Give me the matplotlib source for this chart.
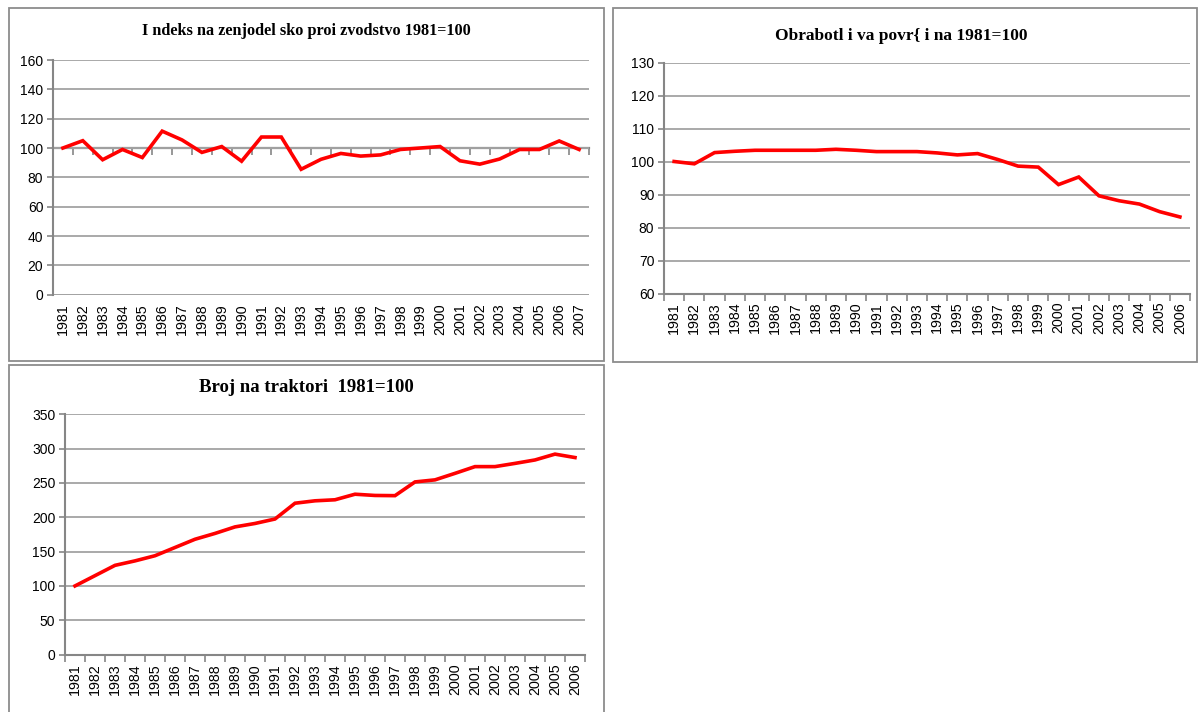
import matplotlib
matplotlib.use("Agg")
import matplotlib.pyplot as plt
from matplotlib.patches import Rectangle
from matplotlib.ticker import FixedLocator, NullFormatter

# ---------------- data ----------------
years_prod = list(range(1981, 2008))
prod_index = [100, 105, 92, 99, 93.5, 111.5, 105.5, 97, 101, 91, 107.5, 107.5, 85.5,
              92.3, 96.3, 94.5, 95.3, 99, 100, 101, 91.3, 89, 92.5, 99, 99, 104.8, 99]

years_land = list(range(1981, 2007))
land_index = [100, 99.3, 102.7, 103.1, 103.4, 103.4, 103.4, 103.4, 103.7, 103.4, 103.0,
              103.0, 103.0, 102.6, 102.0, 102.4, 100.6, 98.6, 98.3, 93.0, 95.3, 89.6,
              88.1, 87.1, 84.8, 83.2]

years_tract = list(range(1981, 2007))
tract_index = [100, 115, 130, 136.5, 144, 156, 168, 176.5, 186, 191, 197.5, 220.5, 224,
               225.5, 233.6, 231.8, 231.5, 251.5, 254.5, 264, 273.8, 273.8, 278.5,
               283.5, 292, 287]

titles = ["I ndeks na zenjodel sko proi zvodstvo 1981=100",
          "Obrabotl i va povr{ i na 1981=100",
          "Broj na traktori  1981=100"]

# ---------------- layout ----------------
W, H = 1200, 712
fig = plt.figure(figsize=(W / 100, H / 100), dpi=100)
fig.patch.set_facecolor("white")

GRID = "#a3a3a3"
AXC = "#868686"
RED = "#ff0000"


def rect(x0, x1, ytop, ybot):
    return [x0 / W, 1 - ybot / H, (x1 - x0) / W, (ybot - ytop) / H]


def panel(x0, x1, ytop, ybot):
    fig.patches.append(Rectangle((x0 / W, 1 - ybot / H), (x1 - x0) / W, (ybot - ytop) / H,
                                 transform=fig.transFigure, fill=False,
                                 edgecolor="#8c8c8c", lw=1.3))


def make_chart(pos, years, values, yticks, title, title_xy, title_size, cross=None):
    ax = fig.add_axes(pos)
    n = len(years)
    x = list(range(n))
    ax.set_xlim(-0.5, n - 0.5)
    ax.set_ylim(yticks[0], yticks[-1])
    ax.set_yticks(yticks)
    ax.set_yticklabels([str(v) for v in yticks], fontsize=10, family="Liberation Sans")
    ax.set_xticks(x)
    ax.set_xticklabels([str(y) for y in years], rotation=90, fontsize=10.3,
                       family="Liberation Sans")
    ax.tick_params(axis="x", which="major", length=0, pad=6)
    ax.tick_params(axis="y", which="major", length=4, color=AXC, width=1.2, pad=3)
    for s in ["top", "right"]:
        ax.spines[s].set_visible(False)
    ax.spines["left"].set_color(AXC)
    ax.spines["left"].set_linewidth(1.5)
    ax.yaxis.grid(True, color=GRID, lw=1.3)
    ax.set_axisbelow(True)
    bounds = [k - 0.5 for k in range(n + 1)]
    if cross is None:
        ax.spines["bottom"].set_color(AXC)
        ax.spines["bottom"].set_linewidth(1.5)
        ax.xaxis.set_minor_locator(FixedLocator(bounds))
        ax.tick_params(axis="x", which="minor", length=5, color=AXC, width=1.2)
    else:
        ax.spines["bottom"].set_visible(False)
        frac = (cross - yticks[0]) / (yticks[-1] - yticks[0])
        sec = ax.secondary_xaxis(frac)
        sec.set_alignment("bottom")
        sec.set_xticks(bounds)
        sec.xaxis.set_major_formatter(NullFormatter())
        sec.tick_params(axis="x", length=5, color=AXC, width=1.2, direction="out")
        for s in sec.spines.values():
            s.set_color(AXC)
            s.set_linewidth(1.6)
        ax.axhline(yticks[0], color=GRID, lw=1.3, zorder=0)
    ax.plot(x, values, color=RED, lw=2.6, solid_joinstyle="miter", zorder=5)
    fig.text(title_xy[0] / W, 1 - title_xy[1] / H, title, ha="center", va="center",
             fontsize=title_size, fontweight="bold", family="Liberation Serif")
    return ax


panel(9, 604, 8, 361)
panel(613, 1197, 8, 362)
panel(9, 604, 365, 716)

make_chart(rect(53, 589, 60, 294.7), years_prod, prod_index,
           [0, 20, 40, 60, 80, 100, 120, 140, 160], titles[0], (306, 31), 11.7, cross=100)
make_chart(rect(664, 1190, 62.5, 293.5), years_land, land_index,
           [60, 70, 80, 90, 100, 110, 120, 130], titles[1], (901, 36), 12.5)
make_chart(rect(65, 585, 414.3, 654.6), years_tract, tract_index,
           [0, 50, 100, 150, 200, 250, 300, 350], titles[2], (306, 387), 13.5)

fig.savefig("out.png", dpi=100, facecolor="white")
